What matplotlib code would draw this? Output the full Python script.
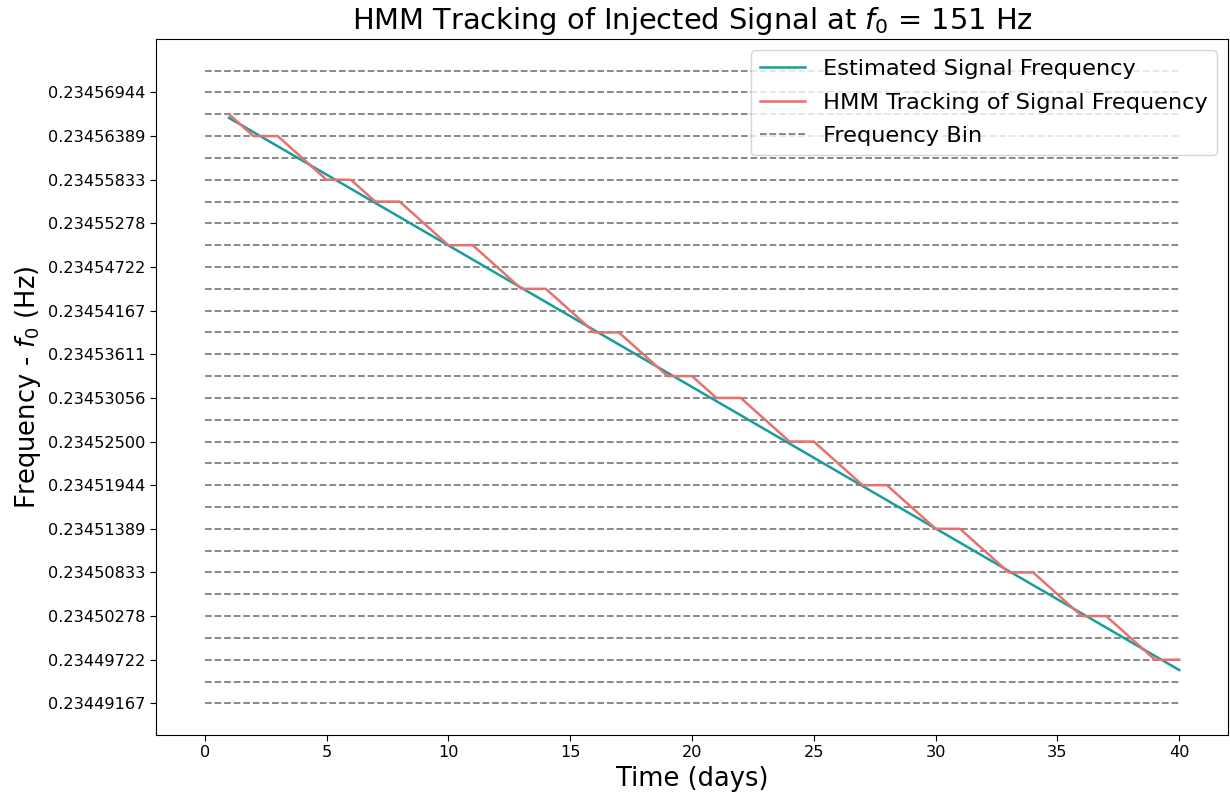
import matplotlib
matplotlib.use("Agg")
import matplotlib.pyplot as plt
import numpy as np

# ---- data ----
bin_base = 0.2344916667          # lowest frequency bin (Hz, relative to f0)
bin_width = 1.0 / 360000.0       # frequency bin spacing (Hz)
n_bins = 30
freq_bins = [bin_base + i * bin_width for i in range(n_bins)]

bin_days = [0, 40]               # x extent of bin lines

est_days = [1, 40]
est_freq = [0.2345662, 0.2344959]

hmm_days = list(range(1, 41))
hmm_bin_index = [27, 26, 26, 25, 24, 24, 23, 23, 22, 21,
                 21, 20, 19, 19, 18, 17, 17, 16, 15, 15,
                 14, 14, 13, 12, 12, 11, 10, 10, 9, 8,
                 8, 7, 6, 6, 5, 4, 4, 3, 2, 2]
hmm_freq = [freq_bins[i] for i in hmm_bin_index]

ytick_vals = freq_bins[0::2]
ytick_labels = ["0.23449167", "0.23449722", "0.23450278", "0.23450833",
                "0.23451389", "0.23451944", "0.23452500", "0.23453056",
                "0.23453611", "0.23454167", "0.23454722", "0.23455278",
                "0.23455833", "0.23456389", "0.23456944"]

# ---- plot ----
fig = plt.figure(figsize=(12.3, 7.95), dpi=100)
ax = fig.add_axes([0.1268, 0.0755, 0.9984 - 0.1268, 0.9509 - 0.0755])

ax.plot(est_days, est_freq, color="#179e9b", lw=1.8, label="Estimated Signal Frequency", zorder=3)
ax.plot(hmm_days, hmm_freq, color="#e8706f", lw=1.8, label="HMM Tracking of Signal Frequency", zorder=4)
for k, f in enumerate(freq_bins):
    ax.plot(bin_days, [f, f], color="gray", ls="--", lw=1.3, zorder=1,
            label="Frequency Bin" if k == 0 else None)

ax.set_yticks(ytick_vals)
ax.set_yticklabels(ytick_labels)
ax.set_xticks([0, 5, 10, 15, 20, 25, 30, 35, 40])
ax.tick_params(labelsize=11.6, length=4)

ax.set_title(r"HMM Tracking of Injected Signal at $f_0$ = 151 Hz", fontsize=20.8, pad=7)
ax.set_xlabel("Time (days)", fontsize=18.5)
ax.set_ylabel(r"Frequency - $f_0$ (Hz)", fontsize=18.5)
ax.legend(loc="upper right", fontsize=16.2, labelspacing=0.6)

fig.savefig("out.png", dpi=100)
